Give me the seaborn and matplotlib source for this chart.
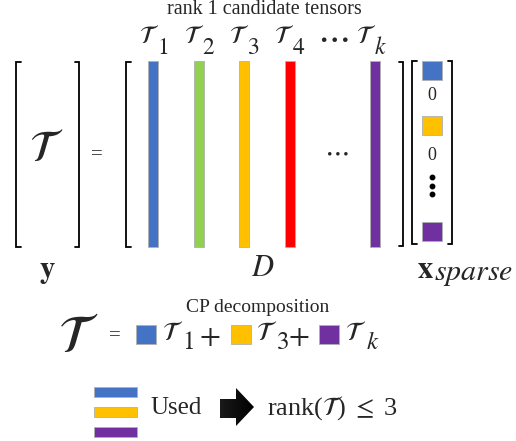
import matplotlib
matplotlib.use("Agg")
import matplotlib.pyplot as plt
import seaborn as sns
import numpy as np
from matplotlib.patches import Rectangle, Polygon
from matplotlib.colors import LinearSegmentedColormap

sns.set_theme(style="white")
plt.rcParams['font.family'] = ['Liberation Serif', 'DejaVu Serif']
plt.rcParams['mathtext.fontset'] = 'stix'

# ---- data ----
tensor_subs = ["1", "2", "3", "4", "k"]
tensor_colors = ["#4472C4", "#92D050", "#FFC000", "#FF0000", "#7030A0"]
sparse_entries = ["#4472C4", "0", "#FFC000", "0", "vdots", "#7030A0"]
used_colors = ["#4472C4", "#FFC000", "#7030A0"]
used_subs = ["1", "3", "k"]
title_top = "rank 1 candidate tensors"
title_bottom = "CP decomposition"

W, H = 516, 441
fig = plt.figure(figsize=(W / 100, H / 100), dpi=100)
ax = fig.add_axes([0, 0, 1, 1])
ax.set_xlim(0, W)
ax.set_ylim(H, 0)
ax.axis("off")

CAL = r"$\mathcal{T}$"


def bracket(x, top, bot, side, serif=4.5, lw=1.3):
    d = serif if side == "left" else -serif
    ax.plot([x + d, x, x, x + d], [top, top, bot, bot], color="black", lw=lw,
            solid_joinstyle="miter")


def tsub(xc, yc, sub, sx, sy, tsize, ssize):
    ax.text(xc, yc, CAL, ha="center", va="center", fontsize=tsize)
    s = "$" + sub + "$"
    ax.text(sx, sy, s, ha="left", va="baseline", fontsize=ssize)


# top title
ax.text(264, 14, title_top, ha="center", va="baseline", fontsize=14.5)

# columns of D
bar_x = [153, 198.5, 244, 289.5, 375]
ax.bar(bar_x, [186] * 5, bottom=61, width=10, color=tensor_colors,
       edgecolor="#b0b0b0", linewidth=0.6)
t_centers = [149, 194, 239, 284, 366]
for xc, sub in zip(t_centers, tensor_subs):
    tsub(xc, 37, sub, xc + 8, 54, 18, 17)
ax.text(333, 39, r"$\cdots$", ha="center", va="center", fontsize=26)
ax.text(336, 153, r"$\cdots$", ha="center", va="center", fontsize=20)

# brackets
bracket(16, 62, 247, "left")
bracket(79, 62, 247, "right")
bracket(126, 62, 247, "left")
bracket(403, 62, 246, "right")
bracket(412, 61, 244, "left")
bracket(452, 61, 244, "right")

# y vector
ax.text(46, 150, CAL, ha="center", va="center", fontsize=32)
ax.text(96.5, 155, "=", ha="center", va="center", fontsize=15)

# sparse vector entries
sq_y = [70.5, 96, 125.5, 155, 185, 231.5]
for yy, e in zip(sq_y, sparse_entries):
    if e.startswith("#"):
        ax.add_patch(Rectangle((422, yy - 9.5), 20, 19, facecolor=e,
                               edgecolor="#b0b0b0", lw=0.6))
    elif e == "vdots":
        ax.plot([432] * 3, [177, 185.5, 194], "o", color="black", ms=3.2)
    else:
        ax.text(432, yy, e, ha="center", va="center", fontsize=13)

# labels under
ax.text(47, 272, r"$\mathbf{y}$", ha="center", va="center", fontsize=22)
ax.text(263, 268, r"$D$", ha="center", va="center", fontsize=22)
ax.text(417, 278, r"$\mathbf{x}$", ha="left", va="baseline", fontsize=22)
ax.text(434, 280, r"$sparse$", ha="left", va="baseline", fontsize=21.5)

# CP decomposition
ax.text(258, 312.5, title_bottom, ha="center", va="baseline", fontsize=14)
ax.text(78, 339, CAL, ha="center", va="center", fontsize=38)
ax.text(114.5, 336, "=", ha="center", va="center", fontsize=15)
sq_x = [136, 231, 319]
t_bx = [173, 267, 356]
for sx, tx, c, sub in zip(sq_x, t_bx, used_colors, used_subs):
    ax.add_patch(Rectangle((sx, 325), 19.5, 19, facecolor=c,
                           edgecolor="#b0b0b0", lw=0.6))
    tsub(tx, 334, sub, tx + 9.5, 349, 19, 18)
for px in [210, 299]:
    ax.text(px, 337.5, r"$+$", ha="center", va="center", fontsize=22)

# used legend
leg_y = [387, 407, 427]
for yy, c in zip(leg_y, used_colors):
    ax.add_patch(Rectangle((94, yy), 43, 10, facecolor=c, edgecolor="#b0b0b0", lw=0.6))
ax.text(150, 408, "Used", ha="left", va="center", fontsize=18)

# arrow with gradient
arrow = Polygon([(220, 399), (236, 399), (236, 388), (254, 407), (236, 426),
                 (236, 418), (220, 418)], closed=True, facecolor="none",
                edgecolor="none")
ax.add_patch(arrow)
grad = np.linspace(0, 1, 64).reshape(1, -1)
im = ax.imshow(np.vstack([grad, grad]),
               cmap=LinearSegmentedColormap.from_list("g", ["#1a1a1a", "#000000"]),
               extent=(220, 254, 426, 388), aspect="auto")
im.set_clip_path(arrow)
ax.set_xlim(0, W)
ax.set_ylim(H, 0)

ax.text(267, 408, r"rank($\mathcal{T}$) $\leq$ 3", ha="left", va="center", fontsize=19)

fig.savefig("out.png", dpi=100)
